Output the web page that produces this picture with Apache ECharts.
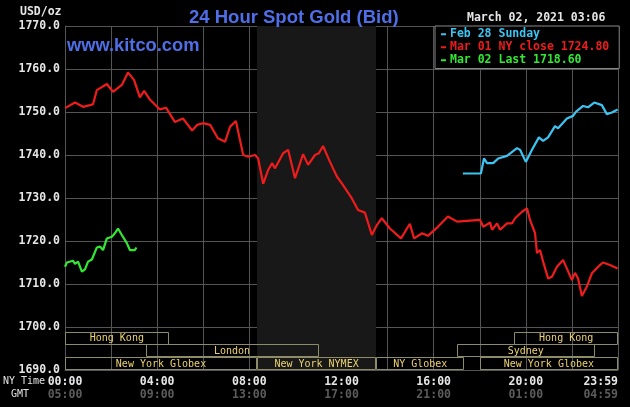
<!DOCTYPE html>
<html><head><meta charset="utf-8">
<script src="https://cdn.jsdelivr.net/npm/echarts@6/dist/echarts.min.js"></script>
<style>html,body{margin:0;padding:0;background:#000;}#c{width:630px;height:407px;}</style>
</head><body><div id="c"></div>
<script>
// Minutes after midnight (NY time) and bid prices
var feb28Min   = [1036,1083,1091,1099,1115,1128,1151,1177,1185,1200,1216,1234,1245,1258,1276,1284,1307,1323,1331,1349,1362,1378,1398,1411,1424,1439];
var feb28Price = [1735.7,1735.7,1739.2,1738.1,1738.1,1739.2,1739.8,1741.6,1741.2,1738.4,1741.2,1744.1,1743.3,1744.1,1746.7,1746.2,1748.5,1749.1,1750.1,1751.4,1751.1,1752.2,1751.6,1749.5,1749.9,1750.6];

var mar01Min   = [0,26,47,65,73,83,109,125,148,164,180,195,206,221,247,263,286,307,331,344,359,378,398,417,430,445,464,477,495,503,516,529,539,547,568,581,599,620,633,651,661,672,690,708,724,747,763,781,799,812,825,846,875,898,909,930,945,971,997,1021,1081,1089,1107,1112,1125,1133,1151,1164,1172,1190,1203,1211,1224,1229,1237,1245,1258,1268,1281,1297,1320,1328,1336,1346,1359,1372,1393,1401,1419,1439];
var mar01Price = [1750.9,1752.2,1751.2,1751.6,1751.8,1755.1,1756.5,1754.7,1756.3,1759.2,1757.4,1753.4,1754.9,1752.9,1750.6,1751.0,1747.7,1748.5,1745.7,1747.0,1747.4,1747.0,1743.9,1743.1,1746.6,1747.9,1740.0,1739.6,1740.0,1739.2,1733.3,1736.5,1738.1,1736.9,1740.4,1741.2,1734.6,1740.2,1737.7,1740.0,1740.4,1742.1,1738.4,1735.0,1733.0,1729.9,1727.2,1726.6,1721.4,1723.7,1725.3,1722.9,1720.6,1724.0,1720.6,1721.8,1721.2,1723.3,1725.7,1724.5,1724.9,1723.3,1724.3,1722.6,1724.1,1722.6,1724.1,1724.1,1725.3,1726.8,1727.6,1724.9,1721.8,1717.2,1717.9,1715.2,1711.3,1711.7,1714.0,1715.6,1710.9,1712.6,1711.3,1707.2,1709.4,1712.5,1714.4,1715.0,1714.4,1713.6];

var mar02Min   = [0,5,21,26,34,44,52,60,70,83,91,99,109,122,130,138,148,161,169,182,186];
var mar02Price = [1714.0,1715.0,1715.4,1714.7,1715.2,1712.9,1713.4,1715.2,1715.7,1718.5,1718.7,1717.9,1720.6,1721.0,1721.8,1722.9,1721.4,1719.5,1717.9,1717.9,1718.5];

var seriesNames = ['Feb 28 Sunday', 'Mar 01 NY close 1724.80', 'Mar 02 Last 1718.60'];

// Trading sessions: name, start minute, end minute, row (0 top .. 2 bottom)
var sessionNames = ['Hong Kong','London','New York Globex','New York NYMEX','NY Globex','New York Globex','Sydney','Hong Kong'];
var sessionStart = [0,210,0,500,810,1080,1020,1170];
var sessionEnd   = [270,660,500,810,1040,1440,1380,1440];
var sessionRow   = [0,1,2,2,2,2,1,0];

var nymexOpen = 500, nymexClose = 810;
var xTicks = ['00:00','04:00','08:00','12:00','16:00','20:00','23:59'];
var gmtTicks = ['05:00','09:00','13:00','17:00','21:00','01:00','04:59'];

function pairs(a, b) { return a.map(function (v, i) { return [v, b[i]]; }); }

var MONO = '"DejaVu Sans Mono", "Liberation Mono", monospace';
var GRID = '#555555';

var chart = echarts.init(document.getElementById('c'), null, {renderer: 'canvas'});
var option = {
  backgroundColor: '#000000',
  animation: false,
  title: {
    text: '24 Hour Spot Gold (Bid)', left: 184, top: 3,
    textStyle: {color: '#4f6fe8', fontFamily: '"Liberation Sans", Arial, sans-serif', fontWeight: 'bold', fontSize: 18.5}
  },
  legend: {
    orient: 'vertical', left: 435, top: 26,
    backgroundColor: '#000000', borderColor: '#888888', borderWidth: 1,
    padding: [2, 10, 2, 6], itemGap: 0.5, itemWidth: 5, itemHeight: 2, icon: 'rect',
    textStyle: {fontFamily: MONO, fontWeight: 'bold', fontSize: 11.5, lineHeight: 12.5, padding: [0,0,0,-1]},
    data: [
      {name: seriesNames[0], textStyle: {color: '#3cc4f2'}},
      {name: seriesNames[1], textStyle: {color: '#ee1c1c'}},
      {name: seriesNames[2], textStyle: {color: '#33e833'}}
    ]
  },
  grid: {left: 65, right: 12, top: 26, bottom: 37},
  xAxis: {
    type: 'value', min: 0, max: 1440, interval: 120,
    axisLine: {show: true, lineStyle: {color: GRID}},
    axisTick: {show: false},
    splitLine: {show: true, lineStyle: {color: GRID, width: 1}},
    axisLabel: {
      margin: 6, alignMaxLabel: 'right', showMaxLabel: true,
      formatter: function (v) {
        if (v % 240 !== 0 && v !== 1440) return '';
        var i = Math.round(v / 240);
        return '{a|' + xTicks[i] + '}\n{b|' + gmtTicks[i] + '}';
      },
      rich: {
        a: {color: '#e6e6e6', fontFamily: MONO, fontWeight: 'bold', fontSize: 11.5, lineHeight: 13},
        b: {color: '#5c5c5c', fontFamily: MONO, fontWeight: 'bold', fontSize: 11.5, lineHeight: 13}
      }
    }
  },
  yAxis: {
    type: 'value', min: 1690, max: 1770, interval: 10,
    axisLine: {show: true, lineStyle: {color: GRID}},
    axisTick: {show: false},
    splitLine: {show: true, lineStyle: {color: GRID, width: 1}},
    axisLabel: {
      margin: 5, color: '#e6e6e6', fontFamily: MONO, fontWeight: 'bold', fontSize: 11.5,
      formatter: function (v) { return v.toFixed(1); }
    }
  },
  graphic: [
    {type: 'text', left: 20, top: 6, style: {text: 'USD/oz', fill: '#e6e6e6', font: 'bold 11.5px ' + MONO}},
    {type: 'text', left: 467, top: 12, style: {text: 'March 02, 2021 03:06', fill: '#e6e6e6', font: 'bold 11.5px ' + MONO}},
    {type: 'text', left: 67, top: 37, z: 5, style: {text: 'www.kitco.com', fill: '#4f6fe8', font: 'bold 18.3px "Liberation Sans", Arial, sans-serif'}},
    {type: 'text', left: 3, top: 376, style: {text: 'NY Time', fill: '#e0e0e0', font: '10px ' + MONO}},
    {type: 'text', left: 11, top: 389, style: {text: 'GMT', fill: '#e0e0e0', font: '10px ' + MONO}}
  ],
  series: [
    {
      type: 'custom', name: 'sessions', silent: true, clip: false, z: 3,
      data: sessionNames.map(function (n, i) { return [sessionStart[i], sessionEnd[i], sessionRow[i], n]; }),
      encode: {x: [0, 1]},
      renderItem: function (params, api) {
        var x0 = api.coord([api.value(0), 1690])[0];
        var x1 = api.coord([api.value(1), 1690])[0];
        var bottom = api.coord([0, 1690])[1];
        var rowH = 12.8;
        var row = api.value(2);
        var top = bottom - (3 - row) * rowH;
        return {
          type: 'group',
          children: [
            {type: 'rect', shape: {x: Math.round(x0) + 0.5, y: Math.round(top) + 0.5, width: Math.round(x1 - x0) - 1, height: Math.round(rowH) - 1},
             style: {fill: null, stroke: '#8e8c68', lineWidth: 1}},
            {type: 'text', style: {text: sessionNames[params.dataIndex], x: (x0 + x1) / 2, y: top + rowH / 2 + 0.5,
             align: 'center', verticalAlign: 'middle', fill: '#ecd270', font: '10px ' + MONO}}
          ]
        };
      }
    },
    {
      type: 'line', name: seriesNames[1], data: pairs(mar01Min, mar01Price),
      showSymbol: false, symbol: 'none', z: 4, color: '#ee1c1c',
      lineStyle: {color: '#ee1c1c', width: 2.2},
      markArea: {silent: true, itemStyle: {color: '#171817'}, data: [[{xAxis: nymexOpen}, {xAxis: nymexClose}]], z: 0}
    },
    {
      type: 'line', name: seriesNames[0], data: pairs(feb28Min, feb28Price),
      showSymbol: false, symbol: 'none', z: 4, color: '#3cc4f2',
      lineStyle: {color: '#3cc4f2', width: 2.2}
    },
    {
      type: 'line', name: seriesNames[2], data: pairs(mar02Min, mar02Price),
      showSymbol: false, symbol: 'none', z: 4, color: '#33e833',
      lineStyle: {color: '#33e833', width: 2.2}
    }
  ]
};
chart.setOption(option);
</script>
</body></html>
